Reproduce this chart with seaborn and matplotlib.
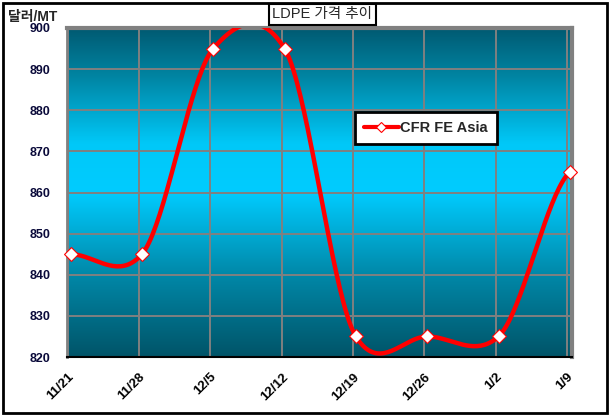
import numpy as np
import pandas as pd
import matplotlib
matplotlib.use('Agg')
import matplotlib.pyplot as plt
import matplotlib.transforms as mtransforms
import seaborn as sns
from matplotlib.colors import LinearSegmentedColormap
from matplotlib.patches import Rectangle
from matplotlib.lines import Line2D

## chart values
dates = ['11/21', '11/28', '12/5', '12/12', '12/19', '12/26', '1/2', '1/9']
cfr_fe_asia = [845, 845, 895, 895, 825, 825, 825, 865]
y_ticks = [820, 830, 840, 850, 860, 870, 880, 890, 900]
series_name = 'CFR FE Asia'


## excel style smoothed line (cardinal spline through the points)
def smooth_line(y, n=40, tension=0.8):
    p = np.r_[y[0], y, y[-1]].astype(float)
    xs, ys = [], []
    t = np.linspace(0, 1, n, endpoint=False)
    for i in range(len(y) - 1):
        p0, p1, p2, p3 = p[i:i + 4]
        m1 = tension * (p2 - p0) / 2.0
        m2 = tension * (p3 - p1) / 2.0
        h = ((2*t**3 - 3*t**2 + 1) * p1 + (t**3 - 2*t**2 + t) * m1
             + (-2*t**3 + 3*t**2) * p2 + (t**3 - t**2) * m2)
        xs.extend(i + t)
        ys.extend(h)
    xs.append(len(y) - 1)
    ys.append(y[-1])
    return np.array(xs), np.array(ys)


sns.set_theme(style='white')
plt.rcParams['font.family'] = ['Liberation Sans', 'Noto Sans CJK KR', 'DejaVu Sans']

fig = plt.figure(figsize=(6.1, 4.16), dpi=100)
ax = fig.add_axes([67/610, 1 - 357/416, 505/610, 329/416])

xmin, xmax = -0.05, 7.03
ymin, ymax = 820, 900

## background gradient: dark teal - bright cyan - dark teal
cmap = LinearSegmentedColormap.from_list('bg', [
    (0.0, '#005468'), (0.25, '#0088A8'), (0.5, '#00CCFF'),
    (0.65, '#00C8F8'), (0.85, '#0086A4'), (1.0, '#005A72')])
grad = np.linspace(0, 1, 256).reshape(-1, 1)
ax.imshow(grad, cmap=cmap, aspect='auto', origin='lower',
          extent=[xmin, xmax, ymin, ymax], zorder=0)

sx, sy = smooth_line(cfr_fe_asia)
line_df = pd.DataFrame({'x': sx, 'y': sy})
pts_df = pd.DataFrame({'x': np.arange(len(dates)), 'y': cfr_fe_asia})

sns.lineplot(ax=ax, data=line_df, x='x', y='y', color='#FF0000', lw=3.2,
             sort=False, zorder=3)
sns.scatterplot(ax=ax, data=pts_df, x='x', y='y', marker='D', s=50,
                color='white', edgecolor='#FF0000', linewidth=0.8, zorder=4,
                clip_on=False)

ax.set_xlim(xmin, xmax)
ax.set_ylim(ymin, ymax)
ax.set_xticks(np.arange(len(dates)) - 0.04)
ax.set_xticklabels(dates, rotation=45, ha='right', va='top',
                   rotation_mode='anchor', fontsize=9.5, fontweight='bold',
                   color='black')
## excel puts the label end a bit right of the tick
shift = mtransforms.ScaledTranslation(0.07, 0, fig.dpi_scale_trans)
for lab in ax.get_xticklabels():
    lab.set_transform(lab.get_transform() + shift)
ax.set_yticks(y_ticks)
ax.set_yticklabels([str(v) for v in y_ticks], fontsize=9, fontweight='bold',
                   color='#0A0A3A')
ax.set_xlabel('')
ax.set_ylabel('')
ax.grid(True, color='#808080', lw=1.4)
ax.set_axisbelow(True)
ax.tick_params(axis='x', length=4, width=1.5, color='black', direction='in',
               pad=10)
ax.tick_params(axis='y', length=0, pad=12)

for side in ['top', 'right', 'left']:
    ax.spines[side].set_color('#808080')
ax.spines['top'].set_linewidth(3)
ax.spines['right'].set_linewidth(3)
ax.spines['left'].set_linewidth(2)
ax.spines['bottom'].set_color('black')
ax.spines['bottom'].set_linewidth(1.5)

## legend box
handle = Line2D([], [], color='#FF0000', lw=3, marker='D', markersize=5,
                markerfacecolor='white', markeredgecolor='#FF0000',
                markeredgewidth=0.8)
leg = ax.legend([handle], [series_name], loc='upper left',
                bbox_to_anchor=(355/610, 1 - 112/416),
                bbox_transform=fig.transFigure, frameon=True, fancybox=False,
                borderpad=0.6, handlelength=2.4, handletextpad=0.1,
                borderaxespad=0, prop={'weight': 'bold', 'size': 10.5})
leg.get_frame().set_edgecolor('black')
leg.get_frame().set_linewidth(2)
leg.get_frame().set_facecolor('white')
leg.get_frame().set_alpha(1)

## title and unit label
fig.text(322/610, 1 - 14/416, 'LDPE 가격 추이', ha='center', va='center',
         fontsize=10.5,
         bbox=dict(facecolor='white', edgecolor='black', lw=1.5, pad=2.5))
fig.text(8/610, 1 - 17/416, '달러/MT', ha='left', va='center',
         fontsize=10, fontweight='bold')

## outer chart border
fig.add_artist(Rectangle((3/610, 3/416), 604/610, 410/416,
                         transform=fig.transFigure, fill=False,
                         ec='black', lw=2))

fig.savefig('out.png', dpi=100)
plt.close()
